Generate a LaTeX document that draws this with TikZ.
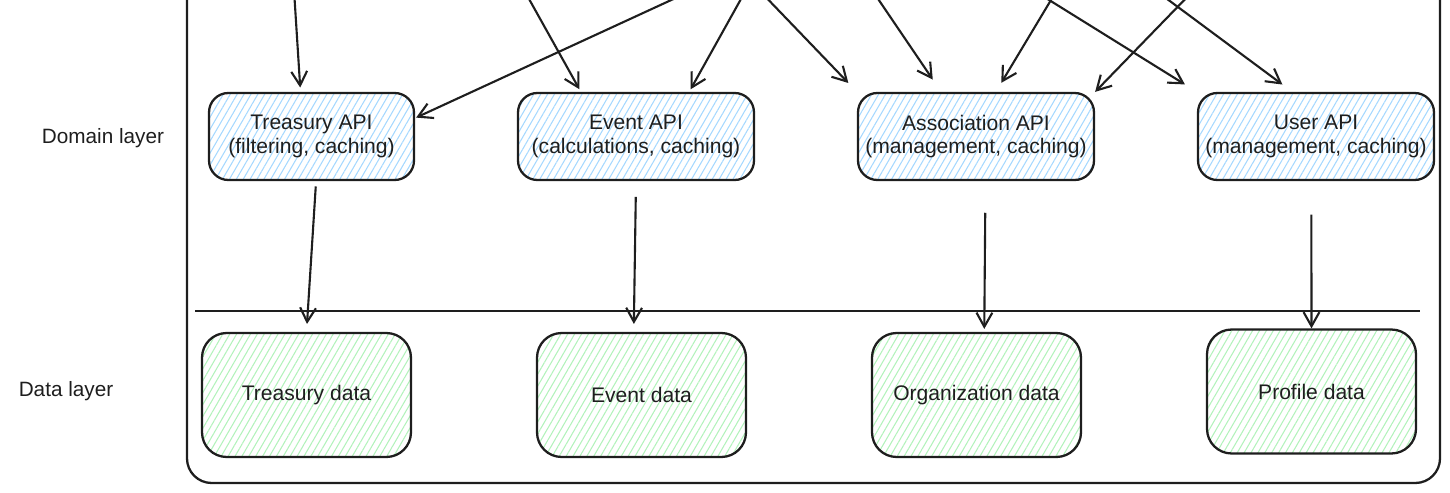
\documentclass[tikz,border=0pt]{standalone}
\usepackage{fontspec}
\setmainfont{Liberation Sans}
\usetikzlibrary{positioning,arrows.meta,patterns.meta}

\definecolor{ink}{HTML}{1E1E1E}
\definecolor{hatchblue}{HTML}{A5D8FF}
\definecolor{hatchgreen}{HTML}{B2F2BB}

\tikzset{
    layer/.style={font=\fontsize{11.8}{13}\selectfont, text=ink},
    apibox/.style={draw=ink, line width=1.3pt, rounded corners=11pt,
        minimum width=4.72cm, minimum height=1.74cm, align=center,
        font=\fontsize{12}{13.6}\selectfont, text=ink,
        pattern={Lines[angle=60,distance=3.4pt,line width=0.6pt]},
        pattern color=hatchblue},
    databox/.style={apibox, minimum width=4.18cm, minimum height=2.48cm,
        rounded corners=14pt, pattern color=hatchgreen},
    arr/.style={ink, line width=1.2pt, -{Straight Barb[length=8pt,width=9pt]}},
}

\begin{document}
\begin{tikzpicture}[x=0.02cm, y=-0.02cm]
\useasboundingbox (0,0) rectangle (1450,493);
\clip (0,0) rectangle (1450,493);

%Frame
\draw[ink, line width=1.3pt, rounded corners=14pt] (187,-40) rectangle (1440,483);
\coordinate (divL) at (195,311);
\coordinate (divR) at (1420,311);
\draw[ink, line width=1.3pt] (divL) -- (divR);

%Nodes
\node[layer]    (domain)    at (103,138)        {Domain layer};
\node[layer]    (datal)     at (66,391)         {Data layer};

\node[apibox, minimum width=4.1cm]  (tapi)  at (311.5,136.5)  {Treasury API\\(filtering, caching)};
\node[apibox]   (eapi)      at (636,136.5)      {Event API\\(calculations, caching)};
\node[apibox]   (aapi)      at (976,136.5)      {Association API\\(management, caching)};
\node[apibox]   (uapi)      at (1316,136.5)     {User API\\(management, caching)};

\node[databox]  (tdata)     at (306.5,395)      {Treasury data};
\node[databox]  (edata)     at (641.5,395)      {Event data};
\node[databox]  (odata)     at (976.5,395)      {Organization data};
\node[databox]  (pdata)     at (1311.5,391.5)   {Profile data};

%Incoming
\coordinate (in1)  at (294,-10);
\coordinate (in2)  at (693,-10);
\coordinate (in3)  at (524,-10);
\coordinate (in4)  at (746,-10);
\coordinate (in5)  at (759,-10);
\coordinate (in6)  at (872,-10);
\coordinate (in7)  at (1057,-10);
\coordinate (in8)  at (1194,-10);
\coordinate (in9)  at (1033,-10);
\coordinate (in10) at (1155,-10);

%Lines
\draw[arr, shorten >=2.8pt] (in1) -- (tapi.104);
\draw[arr, shorten >=1pt]   (in2) -- (tapi.10);
\draw[arr, shorten >=1.7pt] (in3) -- (eapi.141);
\draw[arr, shorten >=1.7pt] (in4) -- (eapi.40);
\draw[arr, shorten >=7pt]   (in5) -- (aapi.north west);
\draw[arr, shorten >=8.5pt] (in6) -- (aapi.128);
\draw[arr, shorten >=6pt]   (in7) -- (aapi.66);
\draw[arr]                  (in8) -- (aapi.north east);
\draw[arr, shorten >=8pt]   (in9) -- (uapi.north west);
\draw[arr, shorten >=7pt]   (in10) -- (uapi.118);

\draw[arr, shorten <=3.4pt, shorten >=4.5pt] (tapi.-84) -- (tdata.north);
\draw[arr, shorten <=9pt, shorten >=4.5pt]   (eapi.south) -- (edata.97);
\draw[arr, shorten <=18pt, shorten >=1.7pt]  (aapi.-78) -- (odata.83);
\draw[arr, shorten <=19pt]                   (uapi.-96) -- (pdata.north);
\end{tikzpicture}
\end{document}
